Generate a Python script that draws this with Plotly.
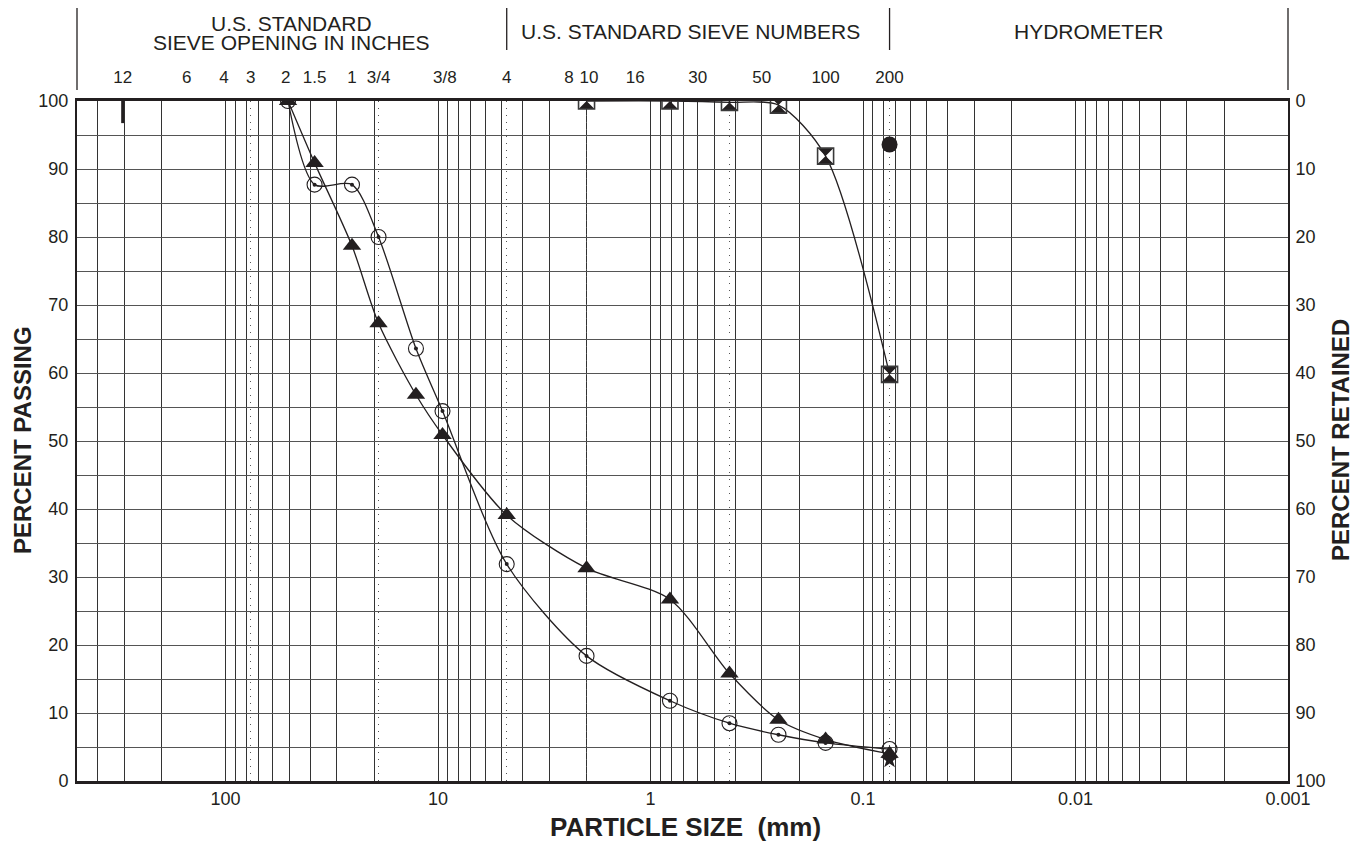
import numpy as np
import plotly.graph_objects as go

# ---------------- data ----------------
# particle sizes (mm) of the sieves used for the two gravel samples
coarse_sizes = [50.8, 38.1, 25.4, 19.05, 12.7, 9.525, 4.75, 2.0, 0.81, 0.425, 0.25, 0.15, 0.075]
circle_passing = [100, 87.7, 87.7, 80.0, 63.6, 54.4, 31.9, 18.4, 11.8, 8.5, 6.8, 5.6, 4.7]
triangle_passing = [100, 90.9, 78.7, 67.3, 56.8, 50.9, 39.1, 31.3, 26.7, 15.8, 9.0, 6.1, 4.0]

# fine sample (sieve #10 .. #200)
fine_sizes = [2.0, 0.81, 0.425, 0.25, 0.15, 0.075]
square_passing = [100, 100, 99.8, 99.4, 91.9, 59.8]

# single points
dot_size = [0.075]
dot_passing = [93.6]
star_size = [0.075]
star_passing = [3.1]
tick_size = [304.8]
tick_passing = [98.6]

# axis ticks / labels
bottom_tickvals = [100, 10, 1, 0.1, 0.01, 0.001]
bottom_ticktext = ["100", "10", "1", "0.1", "0.01", "0.001"]
top_tickvals = [304.8, 152.4, 101.6, 76.2, 50.8, 38.1, 25.4, 19.05, 9.525,
                4.75, 2.36, 2.0, 1.18, 0.6, 0.3, 0.15, 0.075]
top_ticktext = ["12", "6", "4", "3", "2\u00a0", "1.5", "1", "3/4", "\u00a03/8",
                "4", "8\u00a0", "\u00a010", "16", "30", "50", "100", "200"]
boundary_sizes = [76.2, 19.05, 4.75, 2.0, 0.425, 0.075]
y_tickvals = list(range(0, 101, 10))
retained_text = [str(100 - v) for v in y_tickvals]

XMAX, XMIN = 500.0, 0.001

INK = "#231f20"
FONT = "Liberation Sans, Arial, Helvetica, sans-serif"

minor_vals = []
for k in range(-3, 3):
    for d in range(1, 10):
        v = d * 10.0 ** k
        if XMIN <= v <= XMAX:
            minor_vals.append(v)

fig = go.Figure()

LINE = dict(color=INK, width=1.3, shape="spline", smoothing=0.8)

# triangle sample
fig.add_trace(go.Scatter(
    x=coarse_sizes, y=triangle_passing, mode="lines+markers", line=LINE,
    marker=dict(symbol="triangle-up", size=16, color=INK, line=dict(width=0)),
    showlegend=False))

# circle sample
fig.add_trace(go.Scatter(
    x=coarse_sizes, y=circle_passing, mode="lines+markers", line=LINE,
    marker=dict(symbol="circle-open", size=15, color=INK, line=dict(width=1.1, color=INK)),
    showlegend=False))
fig.add_trace(go.Scatter(
    x=coarse_sizes, y=circle_passing, mode="markers",
    marker=dict(symbol="circle", size=4, color=INK),
    showlegend=False))

# square (hourglass) sample
fig.add_trace(go.Scatter(
    x=fine_sizes, y=square_passing, mode="lines+markers", line=LINE,
    marker=dict(symbol="hourglass", size=16, color=INK, line=dict(width=0)),
    showlegend=False))
fig.add_trace(go.Scatter(
    x=fine_sizes, y=square_passing, mode="markers",
    marker=dict(symbol="square-open", size=16, color="#3a3a3a", line=dict(width=1.6, color="#3a3a3a")),
    showlegend=False))

# black dot (on top axis, identical range)
fig.add_trace(go.Scatter(
    x=dot_size, y=dot_passing, mode="markers", xaxis="x2",
    marker=dict(symbol="circle", size=16, color=INK),
    showlegend=False))

# star (on right axis, identical range)
fig.add_trace(go.Scatter(
    x=star_size, y=star_passing, mode="markers", yaxis="y2",
    marker=dict(symbol="star", size=13, color=INK),
    showlegend=False))

# short mark at 12 in
fig.add_trace(go.Scatter(
    x=tick_size, y=tick_passing, mode="markers",
    marker=dict(symbol="line-ns", size=18, line=dict(width=3, color=INK)),
    showlegend=False))

xr = [np.log10(XMAX), np.log10(XMIN)]
tickfont = dict(family=FONT, size=18, color=INK)
topfont = dict(family=FONT, size=17, color=INK)

# page has an 8px body margin: figure is offset so the plot lands where the reference has it
W, Hh = 1353, 834
ML, MT = 69, 93
PW, PH = 1211, 680

fig.update_layout(
    width=W, height=Hh,
    margin=dict(l=ML, r=W - ML - PW, t=MT, b=Hh - MT - PH, autoexpand=False),
    paper_bgcolor="white", plot_bgcolor="white",
    font=dict(family=FONT, color=INK),
    xaxis=dict(
        type="log", range=xr, tickmode="array",
        tickvals=bottom_tickvals, ticktext=bottom_ticktext, tickangle=0,
        tickfont=tickfont, ticks="",
        showgrid=True, gridcolor="#333", gridwidth=1,
        minor=dict(tickmode="array", tickvals=minor_vals, showgrid=True,
                   gridcolor="#333", gridwidth=1, ticks=""),
        showline=True, linecolor=INK, linewidth=2.5, mirror=True,
        zeroline=False, fixedrange=True, automargin=False),
    xaxis2=dict(
        type="log", range=xr, overlaying="x", side="top", anchor="y",
        tickmode="array", tickvals=top_tickvals, ticktext=top_ticktext, tickangle=0,
        tickfont=topfont, ticks="outside", ticklen=10, tickcolor="rgba(0,0,0,0)",
        showgrid=False,
        minor=dict(tickmode="array", tickvals=boundary_sizes, showgrid=True,
                   gridcolor="#555", gridwidth=1, griddash="1px,6px", ticks=""),
        showline=False, zeroline=False, fixedrange=True, automargin=False),
    yaxis=dict(
        range=[0, 100], tickmode="array", tickvals=y_tickvals,
        tickfont=tickfont, ticks="outside", ticklen=3, tickcolor="rgba(0,0,0,0)",
        showgrid=True, gridcolor="#555", gridwidth=1,
        minor=dict(dtick=5, showgrid=True, gridcolor="#555", gridwidth=1, ticks=""),
        showline=True, linecolor=INK, linewidth=2, mirror=True,
        zeroline=False, fixedrange=True, automargin=False),
    yaxis2=dict(
        range=[0, 100], overlaying="y", side="right", anchor="x",
        tickmode="array", tickvals=y_tickvals, ticktext=retained_text,
        tickfont=tickfont, ticks="outside", ticklen=3, tickcolor="rgba(0,0,0,0)",
        showgrid=False, showline=False, zeroline=False, fixedrange=True, automargin=False),
)

# header frame (paper coords derived from the page-pixel layout of the header band)
OFF = 8  # body margin
def py(px):  # page pixel from top -> paper y
    return (MT + OFF + PH - px) / PH

def pxx(px):  # page pixel from left -> paper x
    return (px - ML - OFF) / PW

def pxs(d):  # size -> paper x
    return (np.log10(XMAX) - np.log10(d)) / (np.log10(XMAX) - np.log10(XMIN))

line_style = dict(color=INK, width=1.3)
shapes = [
    dict(type="line", xref="paper", yref="paper", x0=0, x1=1, y0=py(3.5), y1=py(3.5), line=line_style),
    dict(type="line", xref="paper", yref="paper", x0=0, x1=0, y0=py(3.5), y1=py(90), line=line_style),
    dict(type="line", xref="paper", yref="paper", x0=1, x1=1, y0=py(3.5), y1=py(90), line=line_style),
    dict(type="line", xref="paper", yref="paper", x0=pxs(4.75), x1=pxs(4.75), y0=py(3.5), y1=py(50), line=line_style),
    dict(type="line", xref="paper", yref="paper", x0=pxs(0.075), x1=pxs(0.075), y0=py(3.5), y1=py(50), line=line_style),
]
fig.update_layout(shapes=shapes)

hfont = dict(family=FONT, size=21, color=INK)
tfont = dict(family=FONT, size=26, color=INK)
sfont = dict(family=FONT, size=24, color=INK)
ann = [
    dict(text="U.S. STANDARD", x=(0 + pxs(4.75)) / 2, y=py(23.5), xref="paper", yref="paper",
         showarrow=False, font=hfont, xanchor="center", yanchor="middle"),
    dict(text="SIEVE OPENING IN INCHES", x=(0 + pxs(4.75)) / 2, y=py(42), xref="paper", yref="paper",
         showarrow=False, font=hfont, xanchor="center", yanchor="middle"),
    dict(text="U.S. STANDARD SIEVE NUMBERS", x=pxx(690), y=py(32), xref="paper", yref="paper",
         showarrow=False, font=hfont, xanchor="center", yanchor="middle"),
    dict(text="HYDROMETER", x=(pxs(0.075) + 1) / 2, y=py(32), xref="paper", yref="paper",
         showarrow=False, font=hfont, xanchor="center", yanchor="middle"),
    dict(text="<b>PARTICLE SIZE\u00a0\u00a0(mm)</b>", x=pxx(685), y=py(827), xref="paper", yref="paper",
         showarrow=False, font=tfont, xanchor="center", yanchor="middle"),
    dict(text="<b>PERCENT PASSING</b>", x=pxx(22), y=py(440), xref="paper", yref="paper",
         showarrow=False, textangle=-90, font=sfont, xanchor="center", yanchor="middle"),
    dict(text="<b>PERCENT RETAINED</b>", x=pxx(1340), y=py(440), xref="paper", yref="paper",
         showarrow=False, textangle=-90, font=sfont, xanchor="center", yanchor="middle"),
]
fig.update_layout(annotations=ann)

fig.write_html("out.html")
